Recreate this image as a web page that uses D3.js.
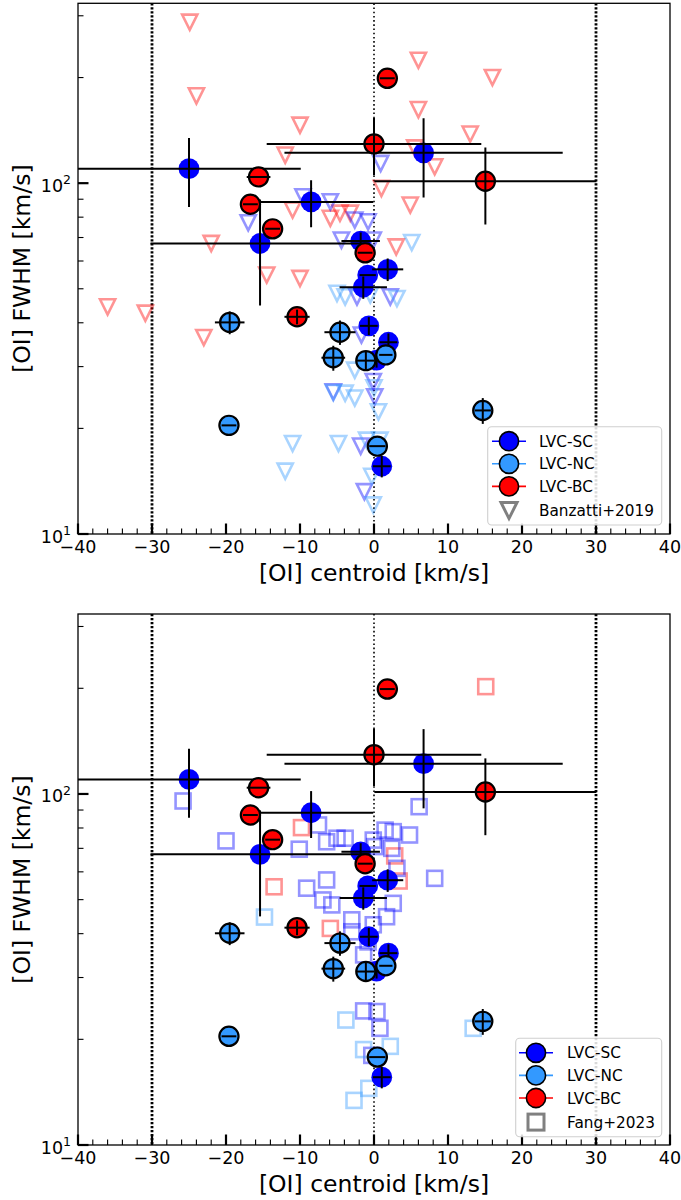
<!DOCTYPE html>
<html><head><meta charset="utf-8">
<script src="https://cdn.jsdelivr.net/npm/d3@7"></script>
<style>body{margin:0;background:#fff}svg{display:block}text{font-family:"DejaVu Sans",sans-serif;fill:#000}</style>
</head><body><svg id="c" width="681" height="1200"></svg>
<script>
// ---------- data ----------
const xTicks=[-40,-30,-20,-10,0,10,20,30,40];
const xMinor=d3.range(-40,41,2);
const yMajor=[10,100];
const yMinor=[20,30,40,50,60,70,80,90,200,300];
const refLines=[-30,0,30];
const xLabel="[OI] centroid [km/s]";
const yLabel="[OI] FWHM [km/s]";

// LVC-SC
const scX=[-25.0,6.7,-8.5,-15.4,-1.8,1.85,-0.85,-1.45,-0.7,1.95,0.35,1.05];
const scY=[110,122,88.4,67.3,68.4,56.8,54.7,50.5,39.2,35.2,31.3,15.6];
const scXerr=[15.1,18.8,8.4,14.8,2.6,2.1,1.1,3.2,1.2,1.2,1.0,1.2];
const scYerr=[24.5,31,13.5,22.5,4,4.2,0,3.7,2.3,2.1,1.5,1.1];
// LVC-NC
const ncX=[-19.5,-19.6,-4.6,-5.5,-1.1,1.6,14.7,0.45];
const ncY=[40.1,20.4,37.6,31.8,31.2,32.4,22.5,17.8];
const ncXerr=[2.0,1.0,2.1,1.6,1.2,0.9,1.1,1.1];
const ncYerr=[3,0,3,2.6,2,0,1.9,0];
// LVC-BC
const bcX=[1.8,0,15.05,-15.6,-16.7,-13.7,-1.2,-10.4];
const bcY=[199,129.4,101.3,104.2,87.1,74.1,63.3,41.6];
const bcXerr=[1.0,14.5,15.0,1.6,1.0,1.0,1.0,1.7];
const bcYerr=[0,24,25,0,0,0,0,2];

// Banzatti+2019 (triangles)
const banzBcX=[-24.9,-24.0,-10.0,-12.0,-11.0,-22.0,-5.9,-4.6,-3.2,6.0,16.0,6.0,13.0,5.5,8.2,1.0,4.9,3.0,-10.0,-14.5,-36.0,-30.9,-23.0];
const banzBcY=[287.5,177.3,146.3,120.2,83.8,67.3,79.4,82.1,82.1,224,200,162,138,126,111.3,96.6,86.6,65.8,53.5,54.7,44.4,42.6,36.3];
const banzScX=[-17.0,-9.6,-5.9,-2.6,-0.8,-4.4,0.9,-0.1,-2.3,2.2,-1.7,-5.5,-0.1,0.1,-1.8,-1.3];
const banzScY=[77.1,91.4,88.5,78.5,77.6,68.8,113.8,68.8,47.4,47.4,36.9,25.4,27.2,24.6,17.8,13.2];
const banzNcX=[5.1,-5.0,-3.9,-0.5,3.1,-2.6,-3.9,-2.6,0,0.6,-11.0,-12.0,-4.8,-1.0,0.8,-0.3,-0.1,-5.5];
const banzNcY=[67.7,48.5,47.4,48.0,46.9,29.3,25.2,24.4,26.1,22.3,18.1,15.1,18.1,18.5,18.5,14.6,12.1,25.3];

// Fang+2023 (squares)
const fangBcX=[15.1,-9.8,-13.5,-5.9,2.8,3.4];
const fangBcY=[202.2,80.2,54.4,41.4,66.6,56.5];
const fangNcX=[-14.8,-3.8,-1.4,2.2,-0.7,-2.7,13.4];
const fangNcY=[44.6,22.7,18.7,19.1,14.5,13.4,21.5];
const fangScX=[-25.8,-20.0,-10.1,-7.5,-6.4,-5.0,-3.9,-0.1,1.5,2.6,4.8,6.1,0.1,2.4,8.2,-6.4,-9.1,3.1,-6.9,-5.7,2.6,-3.0,1.7,-0.1,-3.0,-0.8,-1.4,-1.4,0.4,0.8,-0.3];
const fangScY=[95.5,73.5,69.6,81.6,73.1,74.8,74.8,73.9,78.9,78.1,76.4,92.0,70.8,70.0,57.5,56.9,53.9,61.4,49.9,48.3,48.8,43.8,44.7,42.4,40.5,37.9,34.8,24.1,24.0,21.5,18.0];

const legendNames=["LVC-SC","LVC-NC","LVC-BC"];

// ---------- styles ----------
const COL={SC:"#0000ff",NC:"#3399ff",BC:"#ff0000"};
const LIT_ALPHA=0.42;

const svg=d3.select("#c");
const x=d3.scaleLinear().domain([-40,40]).range([78,670]);

function zipPts(xs,ys){return xs.map((v,i)=>({x:v,y:ys[i]}));}
function zipErr(xs,ys,xe,ye){return xs.map((v,i)=>({x:v,y:ys[i],xe:xe[i],ye:ye[i]}));}

function trianglePath(cx,cy,s){return `M${cx-s},${cy-s}L${cx+s},${cy-s}L${cx},${cy+s}Z`;}

function drawPanel(idx,top,bottom,litType){
  const y=d3.scaleLog().domain([10,325.6]).range([bottom,top]);
  const g=svg.append("g");
  const cid="clip"+idx;
  g.append("clipPath").attr("id",cid).append("rect")
    .attr("x",x(-40)).attr("y",top).attr("width",x(40)-x(-40)).attr("height",bottom-top);
  const pg=g.append("g").attr("clip-path",`url(#${cid})`);

  // reference dotted lines
  pg.selectAll("line.ref").data(refLines).join("line")
    .attr("x1",d=>x(d)).attr("x2",d=>x(d)).attr("y1",top).attr("y2",bottom)
    .attr("stroke","#000")
    .attr("stroke-width",d=>d===0?1.6:2.8)
    .attr("stroke-dasharray",d=>d===0?"1.6,2.6":"2.2,1.8");

  // literature sample
  const lit = litType==="tri"
    ? [["BC",banzBcX,banzBcY],["SC",banzScX,banzScY],["NC",banzNcX,banzNcY]]
    : [["BC",fangBcX,fangBcY],["SC",fangScX,fangScY],["NC",fangNcX,fangNcY]];
  lit.forEach(([k,xs,ys])=>{
    const pts=zipPts(xs,ys);
    if(litType==="tri"){
      pg.append("g").selectAll("path").data(pts).join("path")
        .attr("d",d=>trianglePath(x(d.x),y(d.y),7.6))
        .attr("fill","none").attr("stroke",COL[k]).attr("stroke-opacity",LIT_ALPHA)
        .attr("stroke-width",2.6).attr("stroke-linejoin","miter");
    } else {
      pg.append("g").selectAll("rect").data(pts).join("rect")
        .attr("x",d=>x(d.x)-7.5).attr("y",d=>y(d.y)-7.5).attr("width",15).attr("height",15)
        .attr("fill","none").attr("stroke",COL[k]).attr("stroke-opacity",LIT_ALPHA)
        .attr("stroke-width",2.6);
    }
  });

  // main sample
  const groups=[
    ["SC",zipErr(scX,scY,scXerr,scYerr),false],
    ["NC",zipErr(ncX,ncY,ncXerr,ncYerr),true],
    ["BC",zipErr(bcX,bcY,bcXerr,bcYerr),true]
  ];
  groups.forEach(([k,pts,edge])=>{
    const gg=pg.append("g");
    gg.selectAll("circle").data(pts).join("circle")
      .attr("cx",d=>x(d.x)).attr("cy",d=>y(d.y)).attr("r",edge?9.6:10.4)
      .attr("fill",COL[k])
      .attr("stroke",edge?"#000":"none").attr("stroke-width",2.2);
    gg.selectAll("line.xe").data(pts).join("line").attr("class","xe")
      .attr("x1",d=>x(d.x-d.xe)).attr("x2",d=>x(d.x+d.xe))
      .attr("y1",d=>y(d.y)).attr("y2",d=>y(d.y))
      .attr("stroke","#000").attr("stroke-width",2);
    gg.selectAll("line.ye").data(pts.filter(d=>d.ye>0)).join("line").attr("class","ye")
      .attr("x1",d=>x(d.x)).attr("x2",d=>x(d.x))
      .attr("y1",d=>y(d.y-d.ye)).attr("y2",d=>y(d.y+d.ye))
      .attr("stroke","#000").attr("stroke-width",2);
  });

  // axes frame
  g.append("rect").attr("x",x(-40)).attr("y",top).attr("width",x(40)-x(-40)).attr("height",bottom-top)
    .attr("fill","none").attr("stroke","#000").attr("stroke-width",1.3);

  // x ticks (inward)
  g.selectAll("line.xmin").data(xMinor.filter(v=>v%10!==0)).join("line")
    .attr("x1",d=>x(d)).attr("x2",d=>x(d)).attr("y1",bottom).attr("y2",bottom-5.5)
    .attr("stroke","#000").attr("stroke-width",1.1);
  g.selectAll("line.xmaj").data(xTicks).join("line")
    .attr("x1",d=>x(d)).attr("x2",d=>x(d)).attr("y1",bottom).attr("y2",bottom-10.5)
    .attr("stroke","#000").attr("stroke-width",2.2);
  g.selectAll("text.xt").data(xTicks).join("text")
    .attr("x",d=>x(d)).attr("y",bottom+18.8).attr("text-anchor","middle")
    .attr("font-size",17.5)
    .text(d=>d<0?"\u2212"+Math.abs(d):String(d));

  // y ticks
  g.selectAll("line.ymin").data(yMinor).join("line")
    .attr("x1",x(-40)).attr("x2",x(-40)+5.5).attr("y1",d=>y(d)).attr("y2",d=>y(d))
    .attr("stroke","#000").attr("stroke-width",1.1);
  g.selectAll("line.ymaj").data(yMajor).join("line")
    .attr("x1",x(-40)).attr("x2",x(-40)+10.5).attr("y1",d=>y(d)).attr("y2",d=>y(d))
    .attr("stroke","#000").attr("stroke-width",2.2);
  yMajor.forEach(v=>{
    const t=g.append("text").attr("x",x(-40)-7).attr("y",y(v)+8.5)
      .attr("text-anchor","end").attr("font-size",17.5);
    t.append("tspan").text("10");
    t.append("tspan").attr("dy",-7.5).attr("font-size",12.5).text(String(Math.round(Math.log10(v))));
  });

  // axis labels
  g.append("text").attr("x",(x(-40)+x(40))/2).attr("y",bottom+46.5)
    .attr("text-anchor","middle").attr("font-size",23.5).text(xLabel);
  g.append("text").attr("transform",`translate(30,${(top+bottom)/2}) rotate(-90)`)
    .attr("text-anchor","middle").attr("font-size",23.5).text(yLabel);

  // legend
  const litName = litType==="tri" ? "Banzatti+2019" : "Fang+2023";
  const L = litType==="tri"
    ? {x0:487.7,y0:426.7,w:174,h:98.3,mx:509,tx:539}
    : {x0:515.7,y0:1038.3,w:146,h:98.4,mx:536,tx:567};
  const lg=g.append("g");
  lg.append("rect").attr("x",L.x0).attr("y",L.y0).attr("width",L.w).attr("height",L.h)
    .attr("rx",4).attr("fill","#fff").attr("fill-opacity",0.85)
    .attr("stroke","#d0d0d0").attr("stroke-width",1.1);
  const rowY=i=>L.y0+14.5+i*22.6;
  const keys=["SC","NC","BC"];
  keys.forEach((k,i)=>{
    const yy=rowY(i);
    lg.append("line").attr("x1",L.mx-17).attr("x2",L.mx+17).attr("y1",yy).attr("y2",yy)
      .attr("stroke",COL[k]).attr("stroke-width",1.6);
    lg.append("circle").attr("cx",L.mx).attr("cy",yy).attr("r",9.6)
      .attr("fill",COL[k]).attr("stroke","#000").attr("stroke-width",1.6);
    lg.append("text").attr("x",L.tx).attr("y",yy+5.5).attr("font-size",15.3).text(legendNames[i]);
  });
  const yy=rowY(3)+1.5;
  if(litType==="tri"){
    lg.append("path").attr("d",trianglePath(L.mx,yy,8)).attr("fill","none")
      .attr("stroke","#808080").attr("stroke-width",3);
  } else {
    lg.append("rect").attr("x",L.mx-8).attr("y",yy-8).attr("width",16).attr("height",16)
      .attr("fill","none").attr("stroke","#808080").attr("stroke-width",3);
  }
  lg.append("text").attr("x",L.tx).attr("y",yy+5.5).attr("font-size",15.3).text(litName);
}

drawPanel(0,3.3,534,"tri");
drawPanel(1,614,1145,"sq");
</script></body></html>
